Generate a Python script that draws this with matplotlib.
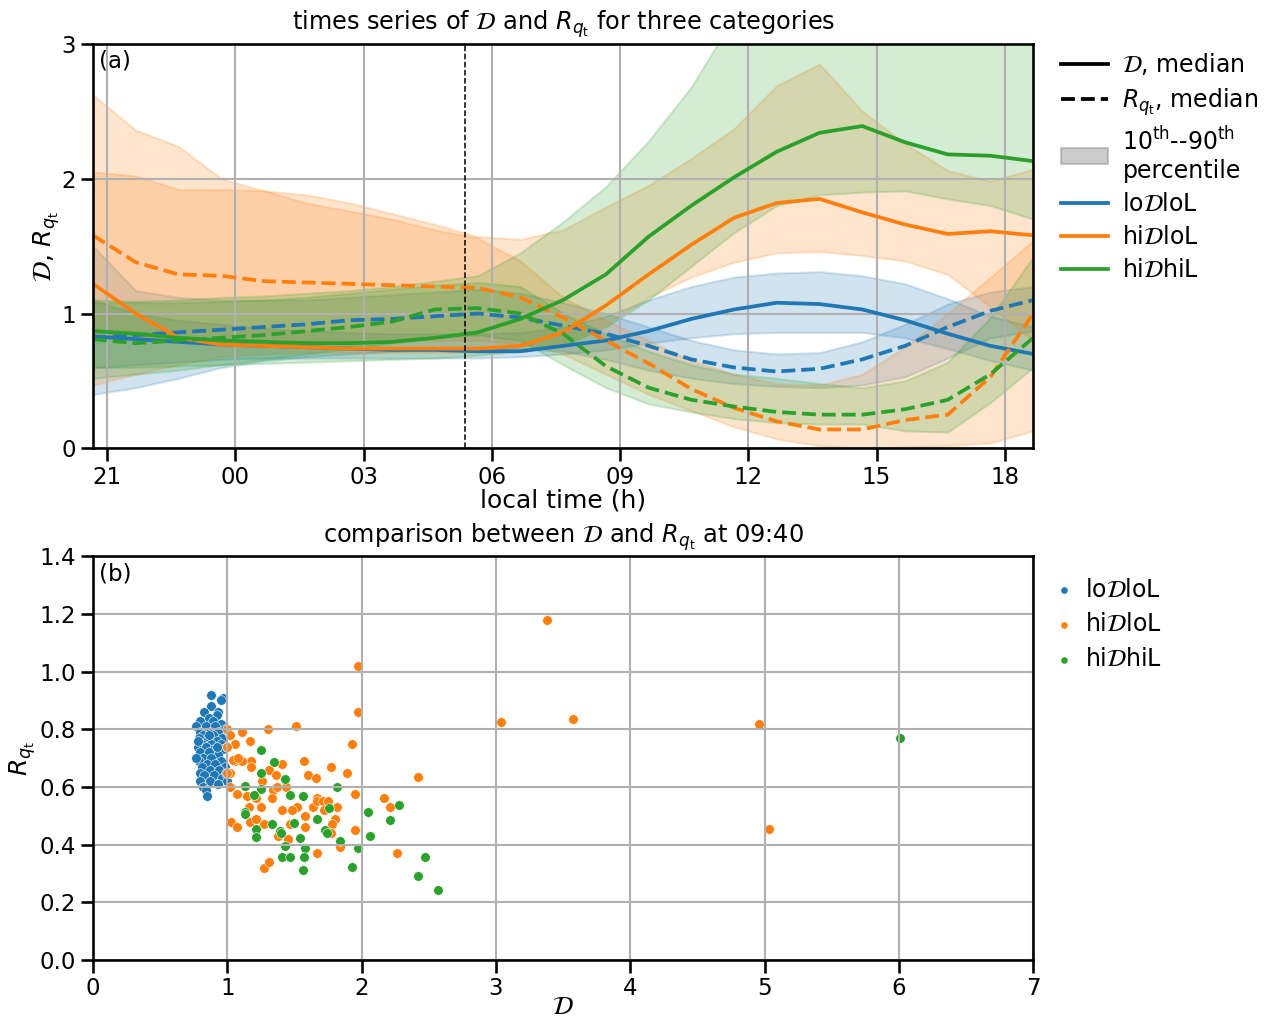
import numpy as np
import matplotlib
matplotlib.use("Agg")
import matplotlib.pyplot as plt
import seaborn as sns
from matplotlib.lines import Line2D
from matplotlib.patches import Patch

sns.set_context("talk")

# hours since 21:00, samples at hh:40 from 20:40 to 18:40
hours = np.arange(23) - 1 / 3
sunrise = 8.38
tick_pos = [0, 3, 6, 9, 12, 15, 18, 21]
tick_lab = ["21", "00", "03", "06", "09", "12", "15", "18"]

cats = ["lo$\\mathcal{D}$loL", "hi$\\mathcal{D}$loL", "hi$\\mathcal{D}$hiL"]
colors = ["tab:blue", "tab:orange", "tab:green"]

# loDloL
d_med_lo = [0.83, 0.81, 0.79, 0.77, 0.76, 0.75, 0.74, 0.73, 0.73, 0.72, 0.72, 0.76, 0.80, 0.87, 0.96, 1.03, 1.08, 1.07, 1.03, 0.95, 0.85, 0.76, 0.70]
d_p10_lo = [0.60, 0.62, 0.64, 0.66, 0.67, 0.67, 0.67, 0.67, 0.67, 0.67, 0.68, 0.70, 0.73, 0.78, 0.82, 0.85, 0.86, 0.86, 0.86, 0.82, 0.74, 0.65, 0.58]
d_p90_lo = [1.10, 1.00, 0.95, 0.92, 0.89, 0.87, 0.86, 0.85, 0.85, 0.85, 0.86, 0.90, 0.98, 1.10, 1.20, 1.27, 1.30, 1.31, 1.28, 1.22, 1.11, 0.98, 0.90]
r_med_lo = [0.82, 0.84, 0.86, 0.88, 0.90, 0.92, 0.95, 0.96, 0.98, 1.00, 0.97, 0.91, 0.85, 0.76, 0.66, 0.60, 0.57, 0.59, 0.66, 0.76, 0.90, 1.02, 1.10]
r_p10_lo = [0.40, 0.45, 0.52, 0.60, 0.65, 0.68, 0.70, 0.72, 0.73, 0.74, 0.74, 0.72, 0.66, 0.58, 0.52, 0.48, 0.46, 0.45, 0.47, 0.53, 0.67, 0.82, 0.87]
r_p90_lo = [1.50, 1.17, 1.12, 1.10, 1.10, 1.10, 1.12, 1.14, 1.16, 1.18, 1.15, 1.08, 1.00, 0.90, 0.80, 0.73, 0.70, 0.71, 0.79, 0.92, 1.07, 1.16, 1.20]

# hiDloL
d_med_hl = [1.22, 1.00, 0.82, 0.77, 0.76, 0.75, 0.74, 0.74, 0.74, 0.74, 0.76, 0.86, 1.06, 1.29, 1.51, 1.71, 1.82, 1.85, 1.75, 1.66, 1.59, 1.61, 1.58]
d_p10_hl = [0.47, 0.55, 0.62, 0.68, 0.70, 0.71, 0.71, 0.71, 0.71, 0.71, 0.72, 0.78, 0.92, 1.12, 1.27, 1.38, 1.45, 1.46, 1.43, 1.39, 1.29, 1.05, 0.80]
d_p90_hl = [2.05, 2.02, 1.92, 1.92, 1.91, 1.88, 1.82, 1.74, 1.66, 1.57, 1.55, 1.62, 1.79, 1.95, 2.15, 2.37, 2.69, 2.85, 2.50, 2.26, 2.06, 1.98, 2.07]
r_med_hl = [1.58, 1.38, 1.29, 1.28, 1.24, 1.23, 1.22, 1.21, 1.20, 1.19, 1.12, 0.97, 0.80, 0.63, 0.44, 0.30, 0.20, 0.14, 0.14, 0.21, 0.25, 0.53, 1.00]
r_p10_hl = [0.85, 0.82, 0.80, 0.80, 0.80, 0.80, 0.80, 0.80, 0.80, 0.80, 0.78, 0.70, 0.55, 0.40, 0.28, 0.16, 0.07, 0.02, 0.00, 0.01, 0.02, 0.04, 0.13]
r_p90_hl = [2.62, 2.36, 2.24, 2.00, 1.91, 1.82, 1.76, 1.70, 1.62, 1.56, 1.39, 1.12, 0.95, 0.80, 0.65, 0.55, 0.48, 0.47, 0.55, 0.75, 1.00, 1.27, 1.54]

# hiDhiL
d_med_hh = [0.87, 0.85, 0.82, 0.80, 0.79, 0.78, 0.78, 0.79, 0.82, 0.86, 0.96, 1.10, 1.29, 1.57, 1.80, 2.01, 2.20, 2.34, 2.39, 2.27, 2.18, 2.17, 2.13]
d_p10_hh = [0.60, 0.60, 0.61, 0.62, 0.63, 0.64, 0.65, 0.66, 0.67, 0.69, 0.72, 0.76, 0.90, 1.10, 1.35, 1.60, 1.80, 1.88, 1.90, 1.91, 1.85, 1.80, 1.70]
d_p90_hh = [1.10, 1.09, 1.10, 1.12, 1.13, 1.15, 1.17, 1.20, 1.24, 1.28, 1.45, 1.68, 1.94, 2.28, 2.68, 3.20, 3.60, 3.80, 3.80, 3.70, 3.60, 3.50, 3.40]
r_med_hh = [0.81, 0.78, 0.80, 0.82, 0.84, 0.87, 0.90, 0.94, 1.03, 1.04, 1.00, 0.85, 0.61, 0.45, 0.36, 0.31, 0.27, 0.25, 0.25, 0.29, 0.36, 0.55, 0.82]
r_p10_hh = [0.52, 0.55, 0.58, 0.62, 0.66, 0.70, 0.74, 0.78, 0.82, 0.84, 0.80, 0.62, 0.45, 0.33, 0.27, 0.22, 0.19, 0.18, 0.18, 0.13, 0.12, 0.34, 0.60]
r_p90_hh = [1.08, 1.08, 1.08, 1.09, 1.10, 1.12, 1.15, 1.18, 1.21, 1.23, 1.20, 1.00, 0.85, 0.72, 0.62, 0.55, 0.52, 0.48, 0.45, 0.50, 0.64, 0.97, 1.42]

# scatter at 09:40 (D, Rqt)
sc_d_lo = [0.88, 0.97, 0.95, 0.88, 0.93, 0.83, 0.92, 0.86, 0.80, 0.89, 0.95, 0.77, 0.84, 0.91, 0.98, 0.80, 0.87, 0.93, 0.82, 0.89,
           0.96, 0.79, 0.85, 0.92, 0.81, 0.88, 0.95, 0.78, 0.84, 0.90, 0.97, 0.80, 0.86, 0.93, 0.82, 0.88, 0.95, 0.79, 0.85, 0.91,
           0.98, 0.81, 0.87, 0.94, 0.80, 0.90, 0.83, 0.96, 0.80, 0.87, 0.995, 0.82, 0.84, 0.85, 0.93, 0.77, 0.78, 0.92, 0.86, 0.99]
sc_r_lo = [0.92, 0.91, 0.90, 0.88, 0.86, 0.86, 0.85, 0.84, 0.83, 0.83, 0.82, 0.81, 0.81, 0.81, 0.80, 0.79, 0.79, 0.79, 0.78, 0.78,
           0.77, 0.77, 0.76, 0.76, 0.75, 0.75, 0.75, 0.74, 0.74, 0.73, 0.73, 0.72, 0.72, 0.71, 0.70, 0.70, 0.69, 0.69, 0.68, 0.68,
           0.67, 0.67, 0.66, 0.66, 0.65, 0.64, 0.64, 0.63, 0.62, 0.62, 0.62, 0.60, 0.59, 0.57, 0.61, 0.70, 0.76, 0.74, 0.78, 0.65]
sc_d_hl = [3.38, 1.97, 1.97, 3.04, 3.57, 4.96, 5.03, 1.51, 1.30, 1.11, 1.00, 1.02, 1.93, 1.17, 1.06, 1.00, 1.57, 1.77, 1.41, 1.31,
           1.89, 2.42, 1.60, 1.66, 1.36, 1.18, 1.18, 1.26, 1.06, 1.11, 1.02, 1.95, 2.17, 2.21, 1.82, 1.67, 1.80, 1.95, 2.26, 1.67,
           1.84, 1.27, 1.31, 1.03, 1.07, 1.38, 1.45, 1.47, 1.58, 1.58, 1.52, 1.48, 1.41, 1.34, 1.33, 1.37, 1.44, 1.64, 1.67, 1.71,
           1.75, 1.72, 1.78, 1.77, 1.27, 1.25, 1.21, 1.15, 1.16, 1.13, 1.17, 1.21, 1.07, 1.02, 1.04, 1.08, 1.00, 1.00]
sc_r_hl = [1.178, 1.02, 0.86, 0.825, 0.835, 0.818, 0.454, 0.81, 0.80, 0.79, 0.80, 0.78, 0.75, 0.76, 0.75, 0.74, 0.69, 0.67, 0.68, 0.66,
           0.65, 0.636, 0.64, 0.63, 0.64, 0.69, 0.67, 0.62, 0.69, 0.69, 0.65, 0.575, 0.56, 0.53, 0.53, 0.56, 0.49, 0.45, 0.37, 0.37,
           0.39, 0.32, 0.34, 0.48, 0.46, 0.43, 0.42, 0.47, 0.46, 0.50, 0.53, 0.52, 0.52, 0.59, 0.56, 0.60, 0.60, 0.53, 0.55, 0.55,
           0.55, 0.52, 0.47, 0.44, 0.47, 0.53, 0.56, 0.57, 0.53, 0.605, 0.48, 0.49, 0.575, 0.60, 0.695, 0.70, 0.647, 0.74]
sc_d_hh = [1.25, 1.35, 1.43, 1.25, 1.13, 1.25, 1.20, 1.47, 1.56, 1.82, 1.76, 1.67, 1.13, 1.13, 1.33, 1.50, 1.39, 1.40, 1.21, 1.21,
           1.54, 1.73, 1.74, 1.84, 2.05, 2.06, 2.21, 2.28, 1.43, 1.58, 1.57, 1.41, 1.47, 1.56, 1.97, 1.93, 2.47, 2.42, 2.57, 6.01]
sc_r_hh = [0.728, 0.688, 0.628, 0.647, 0.605, 0.594, 0.571, 0.572, 0.568, 0.601, 0.528, 0.489, 0.514, 0.507, 0.47, 0.475, 0.447, 0.44, 0.453, 0.426,
           0.423, 0.45, 0.44, 0.414, 0.513, 0.429, 0.487, 0.536, 0.396, 0.387, 0.358, 0.358, 0.356, 0.313, 0.388, 0.322, 0.356, 0.291, 0.244, 0.769]

series = [
    (d_med_lo, d_p10_lo, d_p90_lo, r_med_lo, r_p10_lo, r_p90_lo),
    (d_med_hl, d_p10_hl, d_p90_hl, r_med_hl, r_p10_hl, r_p90_hl),
    (d_med_hh, d_p10_hh, d_p90_hh, r_med_hh, r_p10_hh, r_p90_hh),
]
scatters = [(sc_d_lo, sc_r_lo), (sc_d_hl, sc_r_hl), (sc_d_hh, sc_r_hh)]

fig = plt.figure(figsize=(12.74, 10.19), dpi=100)
ax1 = fig.add_axes([0.073, 0.560, 0.738, 0.397])
ax2 = fig.add_axes([0.073, 0.058, 0.738, 0.396])

# (a) time series
for (dm, dl, dh, rm, rl, rh), c in zip(series, colors):
    ax1.fill_between(hours, dl, dh, color=c, alpha=0.2)
    ax1.fill_between(hours, rl, rh, color=c, alpha=0.2)
    ax1.plot(hours, dm, color=c, ls="-", lw=2.7)
    ax1.plot(hours, rm, color=c, ls="--", lw=2.7)
ax1.axvline(sunrise, color="k", ls="--", lw=1.1)
ax1.set_xlim(hours[0], hours[-1])
ax1.set_ylim(0, 3)
ax1.set_xticks(tick_pos)
ax1.set_xticklabels(tick_lab)
ax1.set_yticks([0, 1, 2, 3])
ax1.tick_params(axis="x", pad=4)
ax1.grid(True)
ax1.set_xlabel("local time (h)", labelpad=-1)
ax1.set_ylabel("$\\mathcal{D}$, $R_{q_\\mathrm{t}}$", labelpad=-1)
ax1.set_title("times series of $\\mathcal{D}$ and $R_{q_\\mathrm{t}}$ for three categories", fontsize=17.3, pad=10)
ax1.text(0.006, 0.985, "(a)", transform=ax1.transAxes, ha="left", va="top", fontsize=16.5)

handles = [
    Line2D([], [], color="k", ls="-", lw=2.7),
    Line2D([], [], color="k", ls="--", lw=2.7),
    Patch(facecolor="gray", edgecolor="gray", alpha=0.4),
] + [Line2D([], [], color=c, lw=2.7) for c in colors]
labels = ["$\\mathcal{D}$, median", "$R_{q_\\mathrm{t}}$, median",
          "10$^\\mathrm{th}$--90$^\\mathrm{th}$\npercentile"] + cats
ax1.legend(handles, labels, loc="upper left", bbox_to_anchor=(1.007, 1.035), frameon=False,
           handlelength=2.0, labelspacing=0.38, handletextpad=0.6, fontsize=17)

# (b) scatter at 09:40
for (xs, ys), c, lab in zip(scatters, colors, cats):
    ax2.scatter(xs, ys, color=c, s=48, edgecolor="white", linewidth=0.4, label=lab)
ax2.set_xlim(0, 7)
ax2.set_ylim(0, 1.4)
ax2.set_yticks(np.arange(0, 1.41, 0.2))
ax2.yaxis.set_major_formatter(matplotlib.ticker.FormatStrFormatter("%.1f"))
ax2.grid(True)
ax2.set_xlabel("$\\mathcal{D}$", labelpad=-4)
ax2.set_ylabel("$R_{q_\\mathrm{t}}$", labelpad=1)
ax2.set_title("comparison between $\\mathcal{D}$ and $R_{q_\\mathrm{t}}$ at 09:40", fontsize=17.3, pad=10)
ax2.text(0.006, 0.985, "(b)", transform=ax2.transAxes, ha="left", va="top", fontsize=16.5)
ax2.legend(loc="upper left", bbox_to_anchor=(1.0, 1.0), frameon=False, markerscale=0.75,
           handlelength=0.8, handletextpad=0.5, labelspacing=0.45, fontsize=17)

fig.savefig("out.png", dpi=100)
